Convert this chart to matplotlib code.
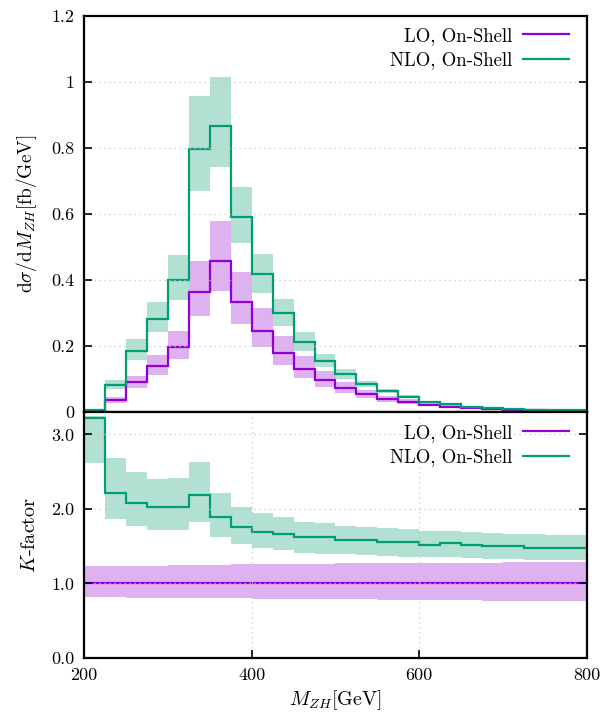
import numpy as np
import matplotlib
matplotlib.use("Agg")
import matplotlib.pyplot as plt

plt.rcParams['font.family'] = ['cmr10', 'DejaVu Serif']
plt.rcParams['mathtext.fontset'] = 'cm'
plt.rcParams['axes.formatter.use_mathtext'] = True

# bin edges in GeV (25 GeV bins)
edges = np.arange(200, 825, 25)

# dsigma/dM_ZH [fb/GeV]
lo = [0.002, 0.036, 0.090, 0.139, 0.197, 0.363, 0.459, 0.333, 0.246, 0.180, 0.131, 0.097,
      0.073, 0.055, 0.038, 0.031, 0.022, 0.016, 0.012, 0.008, 0.006, 0.005, 0.004, 0.003]
lo_up = [0.003, 0.045, 0.109, 0.173, 0.246, 0.458, 0.580, 0.424, 0.316, 0.230, 0.170, 0.125,
         0.092, 0.067, 0.048, 0.039, 0.028, 0.020, 0.015, 0.010, 0.008, 0.006, 0.005, 0.004]
lo_dn = [0.0015, 0.028, 0.072, 0.112, 0.160, 0.292, 0.367, 0.267, 0.196, 0.142, 0.104, 0.077,
         0.057, 0.043, 0.030, 0.024, 0.017, 0.012, 0.009, 0.006, 0.005, 0.004, 0.003, 0.0025]
nlo = [0.006, 0.082, 0.186, 0.282, 0.401, 0.797, 0.867, 0.591, 0.418, 0.299, 0.212, 0.156,
       0.115, 0.085, 0.064, 0.046, 0.030, 0.023, 0.016, 0.012, 0.009, 0.007, 0.006, 0.005]
nlo_up = [0.008, 0.097, 0.220, 0.333, 0.475, 0.958, 1.015, 0.683, 0.479, 0.342, 0.241, 0.176,
          0.129, 0.094, 0.071, 0.052, 0.034, 0.026, 0.018, 0.014, 0.010, 0.008, 0.007, 0.006]
nlo_dn = [0.005, 0.069, 0.158, 0.241, 0.339, 0.670, 0.742, 0.511, 0.362, 0.261, 0.186, 0.137,
          0.100, 0.075, 0.057, 0.041, 0.027, 0.020, 0.014, 0.011, 0.008, 0.006, 0.005, 0.004]

# K-factor
k_lo = [1.0] * 24
k_lo_up = [1.23, 1.235, 1.24, 1.24, 1.245, 1.25, 1.25, 1.255, 1.26, 1.26, 1.265, 1.265,
           1.27, 1.27, 1.27, 1.275, 1.275, 1.28, 1.28, 1.28, 1.285, 1.285, 1.29, 1.29]
k_lo_dn = [0.82, 0.815, 0.81, 0.81, 0.805, 0.80, 0.80, 0.80, 0.795, 0.795, 0.79, 0.79,
           0.785, 0.785, 0.78, 0.78, 0.78, 0.775, 0.775, 0.77, 0.77, 0.765, 0.765, 0.76]
k_nlo = [3.22, 2.22, 2.08, 2.03, 2.03, 2.18, 1.89, 1.76, 1.69, 1.66, 1.62, 1.62,
         1.58, 1.58, 1.55, 1.55, 1.52, 1.54, 1.51, 1.50, 1.50, 1.48, 1.48, 1.48]
k_nlo_up = [3.25, 2.68, 2.49, 2.40, 2.41, 2.63, 2.21, 2.03, 1.94, 1.89, 1.83, 1.81,
            1.77, 1.76, 1.74, 1.73, 1.71, 1.71, 1.69, 1.68, 1.67, 1.66, 1.65, 1.65]
k_nlo_dn = [2.61, 1.87, 1.77, 1.72, 1.72, 1.83, 1.62, 1.53, 1.47, 1.45, 1.41, 1.40,
            1.39, 1.38, 1.37, 1.36, 1.35, 1.35, 1.34, 1.33, 1.33, 1.32, 1.31, 1.31]

labels = ["LO, On-Shell", "NLO, On-Shell"]
purple = "#9400d3"
green = "#009e73"

fig = plt.figure(figsize=(6.02, 7.15), dpi=100)
ax1 = fig.add_axes([0.1395, 0.4238, 0.8355, 0.5538])
ax2 = fig.add_axes([0.1395, 0.0797, 0.8355, 0.3441])

for ax in (ax1, ax2):
    for s in ax.spines.values():
        s.set_linewidth(1.6)
    ax.tick_params(direction='in', length=6, width=1.2, labelsize=13, pad=7,
                   left=True, right=True, top=False, bottom=True)
    ax.set_xlim(200, 800)

legend_kw = dict(loc='upper right', frameon=False, markerfirst=False, fontsize=13.5,
                 handlelength=2.45, handletextpad=0.6, borderaxespad=0.55,
                 labelspacing=0.35)

# top panel
ax1.stairs(lo_up, edges, baseline=lo_dn, fill=True, color=purple, alpha=0.3, lw=0)
ax1.stairs(nlo_up, edges, baseline=nlo_dn, fill=True, color=green, alpha=0.3, lw=0)
ax1.stairs(lo, edges, color=purple, lw=1.6, label=labels[0], baseline=None)
ax1.stairs(nlo, edges, color=green, lw=1.6, label=labels[1], baseline=None)
ax1.set_ylim(0, 1.2)
ax1.set_yticks([0, 0.2, 0.4, 0.6, 0.8, 1.0, 1.2])
ax1.set_yticklabels(["0", "0.2", "0.4", "0.6", "0.8", "1", "1.2"])
ax1.tick_params(axis='x', bottom=False, labelbottom=False)
ax1.grid(axis='y', linestyle=(0, (1, 3)), color='#c8c8c8', lw=0.9)
ax1.set_ylabel(r'$\mathrm{d}\sigma/\mathrm{d}M_{ZH}[\mathrm{fb/GeV}]$', fontsize=14, labelpad=9)
ax1.legend(bbox_to_anchor=(1.0, 1.018), **legend_kw)

# bottom panel
ax2.stairs(k_lo_up, edges, baseline=k_lo_dn, fill=True, color=purple, alpha=0.3, lw=0)
ax2.stairs(k_nlo_up, edges, baseline=k_nlo_dn, fill=True, color=green, alpha=0.3, lw=0)
ax2.stairs(k_lo, edges, color=purple, lw=1.6, label=labels[0], baseline=None)
ax2.stairs(k_nlo, edges, color=green, lw=1.6, label=labels[1], baseline=None)
ax2.set_ylim(0, 3.3)
ax2.set_yticks([0, 1, 2, 3])
ax2.set_yticklabels(["0.0", "1.0", "2.0", "3.0"])
ax2.set_xticks([200, 400, 600, 800])
ax2.set_xticklabels(["200", "400", "600", "800"])
ax2.grid(linestyle=(0, (1, 3)), color='#c8c8c8', lw=0.9)
ax2.set_ylabel(r'$K$-factor', fontsize=14.5, labelpad=9)
ax2.set_xlabel(r'$M_{ZH}[\mathrm{GeV}]$', fontsize=14.5, labelpad=4)
ax2.legend(bbox_to_anchor=(1.0, 1.024), **legend_kw)

fig.savefig("out.png", dpi=100)
